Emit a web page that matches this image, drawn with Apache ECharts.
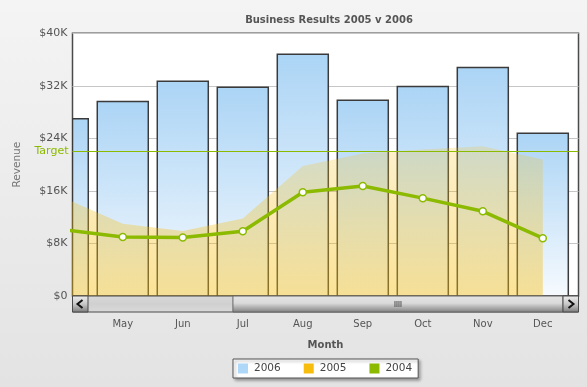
<!DOCTYPE html>
<html><head><meta charset="utf-8">
<script src="https://cdn.jsdelivr.net/npm/echarts@6/dist/echarts.min.js"></script>
<style>html,body{margin:0;padding:0;background:#eee;}#c{width:587px;height:387px;}</style>
</head><body><div id="c"></div>
<script>
// ---- data ----
const months = ['Jan','Feb','Mar','Apr','May','Jun','Jul','Aug','Sep','Oct','Nov','Dec'];
const rev2006 = [22500, 24500, 25500, 27000, 29600, 32700, 31800, 36800, 29800, 31900, 34800, 24800];
const rev2005 = [12000, 13000, 14200, 15000, 11000, 9900, 11800, 19800, 21700, 22300, 22800, 20800];
const rev2004 = [8600, 9200, 9600, 10100, 9000, 8900, 9850, 15800, 16750, 14900, 12900, 8800];
const seriesNames = ['2006', '2005', '2004'];
const yTicks = [0, 8000, 16000, 24000, 32000, 40000];
const targetValue = 22000;
// visible scroll window (in month-index units) and full scroll extent
const viewStart = 3.162, viewEnd = 11.595, fullStart = -0.54;

const C_BLUE = '#AFD8F8', C_ORANGE = '#F6BD0F', C_GREEN = '#8BBA00';
const font = 'DejaVu Sans, Verdana, sans-serif';

const gridL = 72.5, gridR = 578.5, gridT = 33.3, gridB = 296;
const W = 587, H = 387;

const pairs = arr => arr.map((v, i) => [i, v]);
const visibleIdx = months.map((m, i) => i).filter(i => i >= viewStart && i <= viewEnd);

// scrollbar geometry (decoration)
const sbY = gridB, sbH = 16, btnW = 15.5;
const trackX0 = gridL + btnW, trackX1 = gridR - btnW;
const thumbX0 = trackX0 + (viewStart - fullStart) / (viewEnd - fullStart) * (trackX1 - trackX0);
const thumbX1 = trackX1;
const grad = (stops) => ({type: 'linear', x: 0, y: 0, x2: 0, y2: 1, colorStops: stops.map(s => ({offset: s[0], color: s[1]}))});
const btnFill = grad([[0, '#EEEEEE'], [0.5, '#C8C8C8'], [1, '#7A7A7A']]);
const thumbCx = (thumbX0 + thumbX1) / 2;
const barFill = grad([[0, '#ABD4F5'], [1, '#F6FAFE']]);

// bar renderer: bars positioned through the cartesian scales, clipped to the plot
function renderBar(params, api) {
  const x = api.value(0), v = api.value(1);
  const top = api.coord([x, v]);
  const base = api.coord([x, 0]);
  const bw = api.size([1, 0])[0] * 0.85;
  const rect = echarts.graphic.clipRectByRect(
    {x: top[0] - bw / 2, y: top[1], width: bw, height: base[1] - top[1]},
    {x: params.coordSys.x, y: params.coordSys.y, width: params.coordSys.width, height: params.coordSys.height}
  );
  if (!rect) return null;
  return {
    type: 'rect', shape: rect,
    style: {fill: barFill, stroke: '#3A3A3A', lineWidth: 1.5}
  };
}

const chart = echarts.init(document.getElementById('c'), null, {renderer: 'canvas'});
chart.setOption({
  animation: false,
  backgroundColor: grad([[0, '#F4F4F4'], [1, '#E3E3E3']]),
  textStyle: {fontFamily: font},
  title: {
    text: 'Business Results 2005 v 2006',
    left: 324, top: 10, textAlign: 'center',
    textStyle: {fontFamily: font, fontSize: 10, fontWeight: 'bold', color: '#555555'}
  },
  legend: {
    data: seriesNames.map((n, i) => ({name: n, itemStyle: {color: [C_BLUE, C_ORANGE, C_GREEN][i], borderWidth: 0}})),
    left: 233, top: 359, icon: 'rect', itemWidth: 10, itemHeight: 10, itemGap: 23,
    padding: [4, 6, 4, 5],
    backgroundColor: '#FFFFFF', borderColor: '#555555', borderWidth: 1,
    shadowColor: 'rgba(0,0,0,0.35)', shadowBlur: 3, shadowOffsetX: 2, shadowOffsetY: 2,
    textStyle: {fontFamily: font, fontSize: 10.5, color: '#444444', padding: [0, 0, 0, 1]},
    selectedMode: false
  },
  grid: {
    left: gridL, right: W - gridR, top: gridT, bottom: H - gridB,
    show: true, backgroundColor: '#FFFFFF', borderColor: '#4A4A4A', borderWidth: 1.5
  },
  xAxis: {
    type: 'value', min: viewStart, max: viewEnd,
    name: 'Month', nameLocation: 'middle', nameGap: 44,
    nameTextStyle: {fontFamily: font, fontSize: 10, fontWeight: 'bold', color: '#555555'},
    axisLine: {show: false}, axisTick: {show: false}, splitLine: {show: false},
    axisLabel: {
      customValues: visibleIdx, margin: 23,
      formatter: v => months[Math.round(v)],
      fontFamily: font, fontSize: 10, color: '#555555'
    }
  },
  yAxis: {
    type: 'value', min: yTicks[0], max: yTicks[yTicks.length - 1], interval: yTicks[1] - yTicks[0],
    name: 'Revenue', nameLocation: 'middle', nameGap: 50,
    nameTextStyle: {fontFamily: font, fontSize: 10.5, color: '#777777'},
    axisLine: {show: false}, axisTick: {show: false},
    splitLine: {lineStyle: {color: '#C6C6C6', width: 1}},
    axisLabel: {
      formatter: v => '$' + (v === 0 ? '0' : (v / 1000) + 'K'),
      fontFamily: font, fontSize: 11, color: '#555555', margin: 5
    }
  },
  series: [
    {
      name: seriesNames[0], type: 'custom', data: pairs(rev2006), renderItem: renderBar, clip: true,
      encode: {x: 0, y: 1}, itemStyle: {color: C_BLUE}
    },
    {
      name: seriesNames[1], type: 'line', data: pairs(rev2005), symbol: 'none', color: C_ORANGE, clip: true,
      lineStyle: {width: 0},
      areaStyle: {color: grad([[0, 'rgba(246,189,15,0.3)'], [1, 'rgba(246,189,15,0.62)']]), origin: 'start'}
    },
    {
      name: seriesNames[2], type: 'line', data: pairs(rev2004), color: C_GREEN, clip: true,
      lineStyle: {width: 3.5, color: C_GREEN},
      symbol: 'circle', symbolSize: 7,
      itemStyle: {color: '#FFFFFF', borderColor: C_GREEN, borderWidth: 1.5},
      markLine: {
        silent: true, symbol: 'none',
        data: [{yAxis: targetValue}],
        lineStyle: {color: C_GREEN, width: 1, type: 'solid'},
        label: {position: 'start', formatter: 'Target', color: C_GREEN, fontFamily: font, fontSize: 11, distance: 4}
      }
    }
  ],
  graphic: [
    {type: 'rect', shape: {x: gridL, y: sbY, width: gridR - gridL, height: sbH},
      style: {fill: grad([[0, '#D9D9D9'], [0.5, '#D0D0D0'], [1, '#DADADA']]), stroke: '#4A4A4A', lineWidth: 1}, z: 100},
    {type: 'rect', shape: {x: thumbX0, y: sbY, width: thumbX1 - thumbX0, height: sbH},
      style: {fill: grad([[0, '#E4E4E4'], [0.45, '#DADADA'], [1, '#7E7E7E']]), stroke: '#666666', lineWidth: 1}, z: 101},
    ...[-3, -1, 1, 3].map(dx => ({type: 'line', shape: {x1: thumbCx + dx, y1: sbY + 5, x2: thumbCx + dx, y2: sbY + 11},
      style: {stroke: '#555555', lineWidth: 1}, z: 102})),
    {type: 'rect', shape: {x: gridL, y: sbY, width: btnW, height: sbH},
      style: {fill: btnFill, stroke: '#4A4A4A', lineWidth: 1}, z: 103},
    {type: 'rect', shape: {x: gridR - btnW, y: sbY, width: btnW, height: sbH},
      style: {fill: btnFill, stroke: '#4A4A4A', lineWidth: 1}, z: 103},
    {type: 'polyline', shape: {points: [[gridL + 10, sbY + 4], [gridL + 5, sbY + 8], [gridL + 10, sbY + 12]]},
      style: {stroke: '#111111', lineWidth: 2, fill: null}, z: 104},
    {type: 'polyline', shape: {points: [[gridR - 10, sbY + 4], [gridR - 5, sbY + 8], [gridR - 10, sbY + 12]]},
      style: {stroke: '#111111', lineWidth: 2, fill: null}, z: 104}
  ]
});
</script></body></html>
